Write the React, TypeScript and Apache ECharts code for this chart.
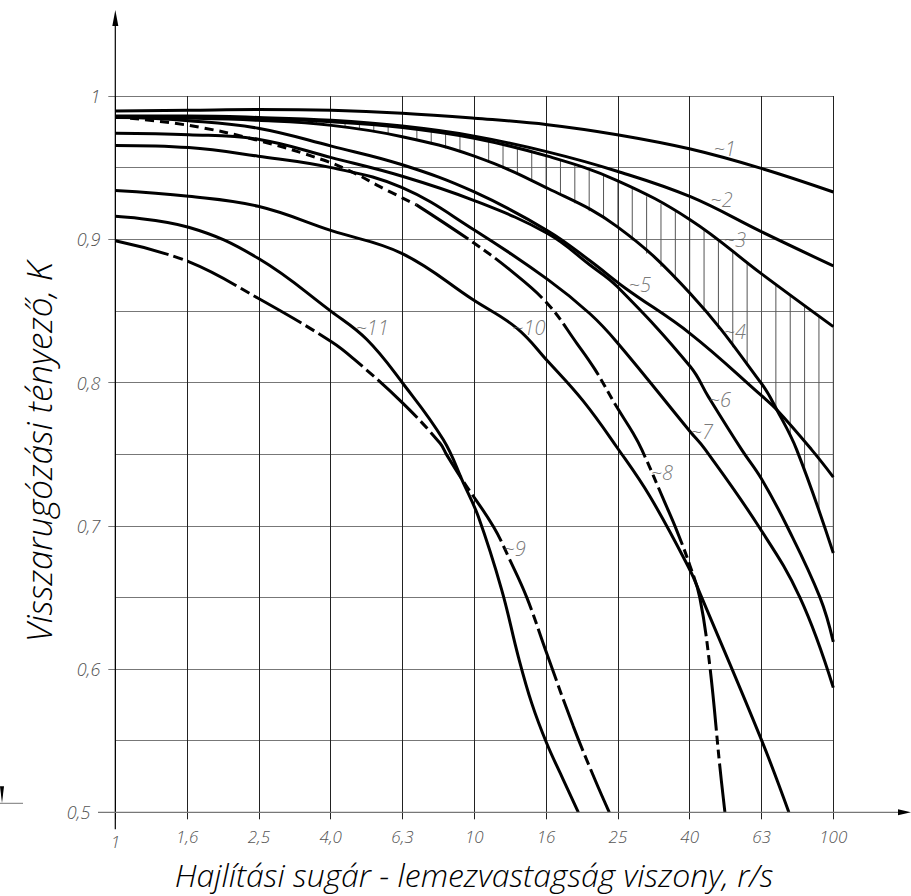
import React, { useEffect, useRef } from "react";
import * as echarts from "echarts";

// ---------- data (r/s, K) ----------
const X_TICK_LABELS = ["1", "1,6", "2,5", "4,0", "6,3", "10", "16", "25", "40", "63", "100"];
const Y_TICK_LABELS: Record<string, string> = { "0.5": "0,5", "0.6": "0,6", "0.7": "0,7", "0.8": "0,8", "0.9": "0,9", "1": "1" };

const X_TITLE = "Hajlítási sugár - lemezvastagság viszony, r/s";
const Y_TITLE = "Visszarugózási tényező, K";

const CURVE_1 = [[1, 0.9895], [1.6, 0.99], [2.5, 0.9905], [4, 0.99], [6.3, 0.988], [10, 0.9845], [16, 0.98], [25, 0.973], [40, 0.963], [63, 0.9495], [100, 0.933]];
const CURVE_2 = [[1, 0.986], [1.6, 0.986], [2.5, 0.985], [4, 0.983], [6.3, 0.979], [10, 0.972], [16, 0.961], [25, 0.9475], [40, 0.9297], [63, 0.9053], [100, 0.8814]];
const CURVE_3 = [[1, 0.985], [1.6, 0.985], [2.5, 0.984], [4, 0.982], [6.3, 0.978], [10, 0.9705], [16, 0.958], [25, 0.941], [40, 0.9135], [63, 0.876], [100, 0.839]];
const CURVE_4 = [[1, 0.985], [1.6, 0.9845], [2.5, 0.983], [4, 0.9795], [6.3, 0.9716], [10, 0.958], [16, 0.9356], [25, 0.9088], [40, 0.862], [63, 0.7995], [69.6, 0.781], [79.1, 0.753], [100, 0.681]];
const CURVE_5 = [[1, 0.9855], [1.6, 0.9828], [2.5, 0.9775], [4, 0.965], [6.3, 0.952], [10, 0.933], [16, 0.906], [21, 0.885], [26.3, 0.866], [40, 0.834], [63, 0.791], [69.6, 0.781], [87.1, 0.753], [100, 0.734]];
const CURVE_6 = [[1, 0.974], [1.6, 0.973], [2.5, 0.9698], [4, 0.957], [6.3, 0.944], [10, 0.927], [16, 0.904], [21, 0.882], [25, 0.867], [40, 0.811], [44.9, 0.79], [55.6, 0.753], [63, 0.733], [74.2, 0.7], [91.8, 0.65], [100, 0.619]];
const CURVE_7 = [[1, 0.9655], [1.6, 0.964], [2.5, 0.958], [4, 0.95], [6.3, 0.936], [10, 0.9065], [16, 0.872], [21, 0.848], [25, 0.828], [40, 0.7655], [43.9, 0.7535], [61.8, 0.7], [80.7, 0.65], [100, 0.587]];
const CURVE_8A = [[1, 0.9855], [1.6, 0.9795], [2.5, 0.969], [3.8, 0.9553], [4.65, 0.946], [5.46, 0.9367], [6.9, 0.924]];
const CURVE_8B = [[6.9, 0.924], [10, 0.8972], [12.57, 0.8786], [16, 0.855], [19.3, 0.8274], [21.7, 0.809], [24.9, 0.7832], [27.7, 0.7646], [29.3, 0.753], [34, 0.7158], [36.6, 0.697], [39.9, 0.672], [42.5, 0.6495], [45.3, 0.602], [48.3, 0.532], [49.9, 0.5]];
const CURVE_9 = [[1, 0.899], [1.6, 0.8844], [2.5, 0.8588], [4, 0.8285], [4.65, 0.8158], [6.32, 0.7856], [8.03, 0.7576], [8.38, 0.7495], [9.32, 0.731], [11.3, 0.6995], [12.57, 0.676], [14, 0.65], [15.91, 0.611], [18.87, 0.56], [21.69, 0.5227], [23.77, 0.5]];
const CURVE_10 = [[1, 0.934], [1.6, 0.93], [2.5, 0.923], [4, 0.906], [6.3, 0.89], [9.95, 0.8576], [13.13, 0.838], [16, 0.815], [20.12, 0.787], [24.93, 0.755], [30.86, 0.7204], [39.9, 0.669], [42.5, 0.653], [63.2, 0.55], [75.2, 0.5]];
const CURVE_11 = [[1, 0.916], [1.6, 0.9084], [2.5, 0.8867], [4, 0.8495], [5.02, 0.83], [6.32, 0.7995], [8.2, 0.76], [9.32, 0.73], [10.26, 0.7064], [11.92, 0.6553], [13.26, 0.6087], [14.45, 0.5762], [15.91, 0.5482], [17.7, 0.5227], [19.49, 0.5]];

// curve number labels: [text, r/s, K]
const CURVE_LABELS: [string, number, number][] = [
  ["1", 46.2, 0.9637], ["2", 45.3, 0.9281], ["3", 49.3, 0.8995], ["4", 49.3, 0.8353],
  ["5", 26.8, 0.8681], ["6", 44.8, 0.7879], ["7", 39.9, 0.7655], ["8", 30.9, 0.7369],
  ["9", 12.0, 0.6839], ["10", 12.7, 0.8381], ["11", 4.65, 0.8381],
];

// ---------- layout / style ----------
const GRID = { left: 115.3, top: 96, width: 718, height: 716.3 };
const LABEL_FONT = "'Open Sans', 'DejaVu Sans', sans-serif";
const TITLE_FONT = "'Open Sans', 'DejaVu Sans', sans-serif";
const HATCH_START = 0.56;
const HATCH_STEP = 0.04;

const toLog = (pts: number[][]) => pts.map(([r, k]) => [Math.log10(r), k]);

function interp(pts: number[][], lx: number): number | null {
  for (let i = 0; i < pts.length - 1; i++) {
    const [x0, y0] = pts[i];
    const [x1, y1] = pts[i + 1];
    if (lx >= x0 - 1e-9 && lx <= x1 + 1e-9) return y0 + ((y1 - y0) * (lx - x0)) / (x1 - x0);
  }
  return null;
}

function lineSeries(name: string, pts: number[][], dash?: number[]) {
  return {
    type: "line",
    name,
    data: toLog(pts),
    showSymbol: false,
    symbol: "none",
    smooth: 0.4,
    clip: true,
    silent: true,
    z: 3,
    lineStyle: { color: "#000", width: 3, type: dash ?? "solid", cap: "butt" },
  };
}

const tickText = {
  color: "#555",
  fontSize: 17,
  lineHeight: 17,
  fontStyle: "italic",
  fontWeight: 300,
  fontFamily: LABEL_FONT,
};

export default function App() {
  const ref = useRef<HTMLDivElement>(null);

  useEffect(() => {
    if (!ref.current) return;
    const chart = echarts.init(ref.current, undefined, { renderer: "svg" });

    const c3L = toLog(CURVE_3);
    const c4L = toLog(CURVE_4);
    const hatchData: number[][] = [];
    for (let i = 0; HATCH_START + i * HATCH_STEP <= 2.0001; i++) {
      hatchData.push([Math.min(2, HATCH_START + i * HATCH_STEP), 0.75]);
    }

    const bottomY = GRID.top + GRID.height;

    const option: any = {
      animation: false,
      backgroundColor: "#fff",
      grid: { left: GRID.left, top: GRID.top, width: GRID.width, height: GRID.height, containLabel: false },
      xAxis: {
        type: "value",
        min: 0,
        max: 2,
        interval: 0.2,
        axisLine: { show: false },
        axisTick: { show: true, length: 7, lineStyle: { color: "#222", width: 1 } },
        splitLine: { show: true, lineStyle: { color: "#222", width: 1 } },
        axisLabel: {
          margin: 16,
          ...tickText,
          formatter: (v: number) => {
            const i = Math.round(v / 0.2);
            return i === 0 ? "{low|" + X_TICK_LABELS[0] + "}" : X_TICK_LABELS[i] ?? "";
          },
          rich: { low: { padding: [10, 0, 0, 0], ...tickText } },
        },
      },
      yAxis: [
        {
          type: "value",
          min: 0.5,
          max: 1,
          interval: 0.05,
          axisLine: { show: false },
          axisTick: { show: false },
          axisLabel: { show: false },
          splitLine: { show: true, lineStyle: { color: "#777", width: 1 } },
        },
        {
          type: "value",
          min: 0.5,
          max: 1,
          interval: 0.1,
          position: "left",
          axisLine: { show: false },
          axisTick: { show: true, length: 7, lineStyle: { color: "#777", width: 1 } },
          splitLine: { show: false },
          axisLabel: {
            margin: 15,
            ...tickText,
            fontSize: 18,
            lineHeight: 18,
            formatter: (v: number) => {
              const key = String(Math.round(v * 10) / 10);
              const t = Y_TICK_LABELS[key] ?? "";
              return key === "0.5" ? "{pad|" + t + "}" : t;
            },
            rich: { pad: { padding: [0, 10, 0, 0], ...tickText, fontSize: 18, lineHeight: 18 } },
          },
        },
      ],
      series: [
        {
          type: "custom",
          name: "hatch",
          data: hatchData,
          encode: { x: 0, y: 1 },
          silent: true,
          z: 1,
          renderItem: (params: any, api: any) => {
            const lx = api.value(0);
            const top = interp(c3L, lx);
            const bot = interp(c4L, lx);
            if (top == null || bot == null || top - bot < 0.002) return null;
            const p1 = api.coord([lx, top]);
            const p2 = api.coord([lx, bot]);
            return {
              type: "line",
              shape: { x1: p1[0], y1: p1[1], x2: p2[0], y2: p2[1] },
              style: { stroke: "#555", lineWidth: 1 },
            };
          },
        },
        lineSeries("1", CURVE_1),
        lineSeries("2", CURVE_2),
        lineSeries("3", CURVE_3),
        lineSeries("4", CURVE_4),
        lineSeries("5", CURVE_5),
        lineSeries("6", CURVE_6),
        lineSeries("7", CURVE_7),
        lineSeries("8a", CURVE_8A, [9, 6]),
        lineSeries("8b", CURVE_8B, [62, 5, 9, 5, 9, 5]),
        lineSeries("9", CURVE_9, [55, 5, 10, 5]),
        lineSeries("10", CURVE_10),
        lineSeries("11", CURVE_11),
        {
          type: "scatter",
          name: "labels",
          silent: true,
          z: 5,
          symbolSize: 1,
          itemStyle: { color: "rgba(0,0,0,0)" },
          data: CURVE_LABELS.map(([t, r, k]) => ({ name: t, value: [Math.log10(r), k] })),
          label: {
            show: true,
            position: "right",
            distance: 0,
            formatter: (p: any) => "~" + p.name,
            ...tickText,
            fontSize: 20,
            lineHeight: 20,
          },
        },
      ],
      graphic: [
        // y axis with arrow
        { type: "line", shape: { x1: GRID.left, y1: bottomY + 17, x2: GRID.left, y2: 24 }, style: { stroke: "#000", lineWidth: 1.2 }, z: 10 },
        { type: "polygon", shape: { points: [[GRID.left, 10], [GRID.left - 3, 26], [GRID.left + 3, 26]] }, style: { fill: "#000" }, z: 10 },
        // x axis with arrow
        { type: "line", shape: { x1: 98, y1: bottomY, x2: 900, y2: bottomY }, style: { stroke: "#777", lineWidth: 1.2 }, z: 10 },
        { type: "polygon", shape: { points: [[911, bottomY], [898, bottomY - 3], [898, bottomY + 3]] }, style: { fill: "#000" }, z: 10 },
        // cropped stray axis piece at far left
        { type: "line", shape: { x1: 0, y1: bottomY - 9, x2: 23, y2: bottomY - 9 }, style: { stroke: "#777", lineWidth: 1 }, z: 10 },
        { type: "polygon", shape: { points: [[0, bottomY - 26], [4, bottomY - 26], [2, bottomY - 9]] }, style: { fill: "#000" }, z: 10 },
        // axis titles
        {
          type: "text",
          x: 474,
          y: 874,
          style: { text: X_TITLE, fill: "#000", font: "italic 300 32px " + TITLE_FONT, lineHeight: 32, align: "center", verticalAlign: "middle" },
          z: 10,
        },
        {
          type: "text",
          x: 38,
          y: 452,
          rotation: Math.PI / 2,
          style: { text: Y_TITLE, fill: "#000", font: "italic 300 35px " + TITLE_FONT, lineHeight: 35, align: "center", verticalAlign: "middle" },
          z: 10,
        },
      ],
    };

    chart.setOption(option);
    return () => chart.dispose();
  }, []);

  return <div ref={ref} style={{ position: "fixed", left: 0, top: 0, width: 911, height: 896 }} />;
}
